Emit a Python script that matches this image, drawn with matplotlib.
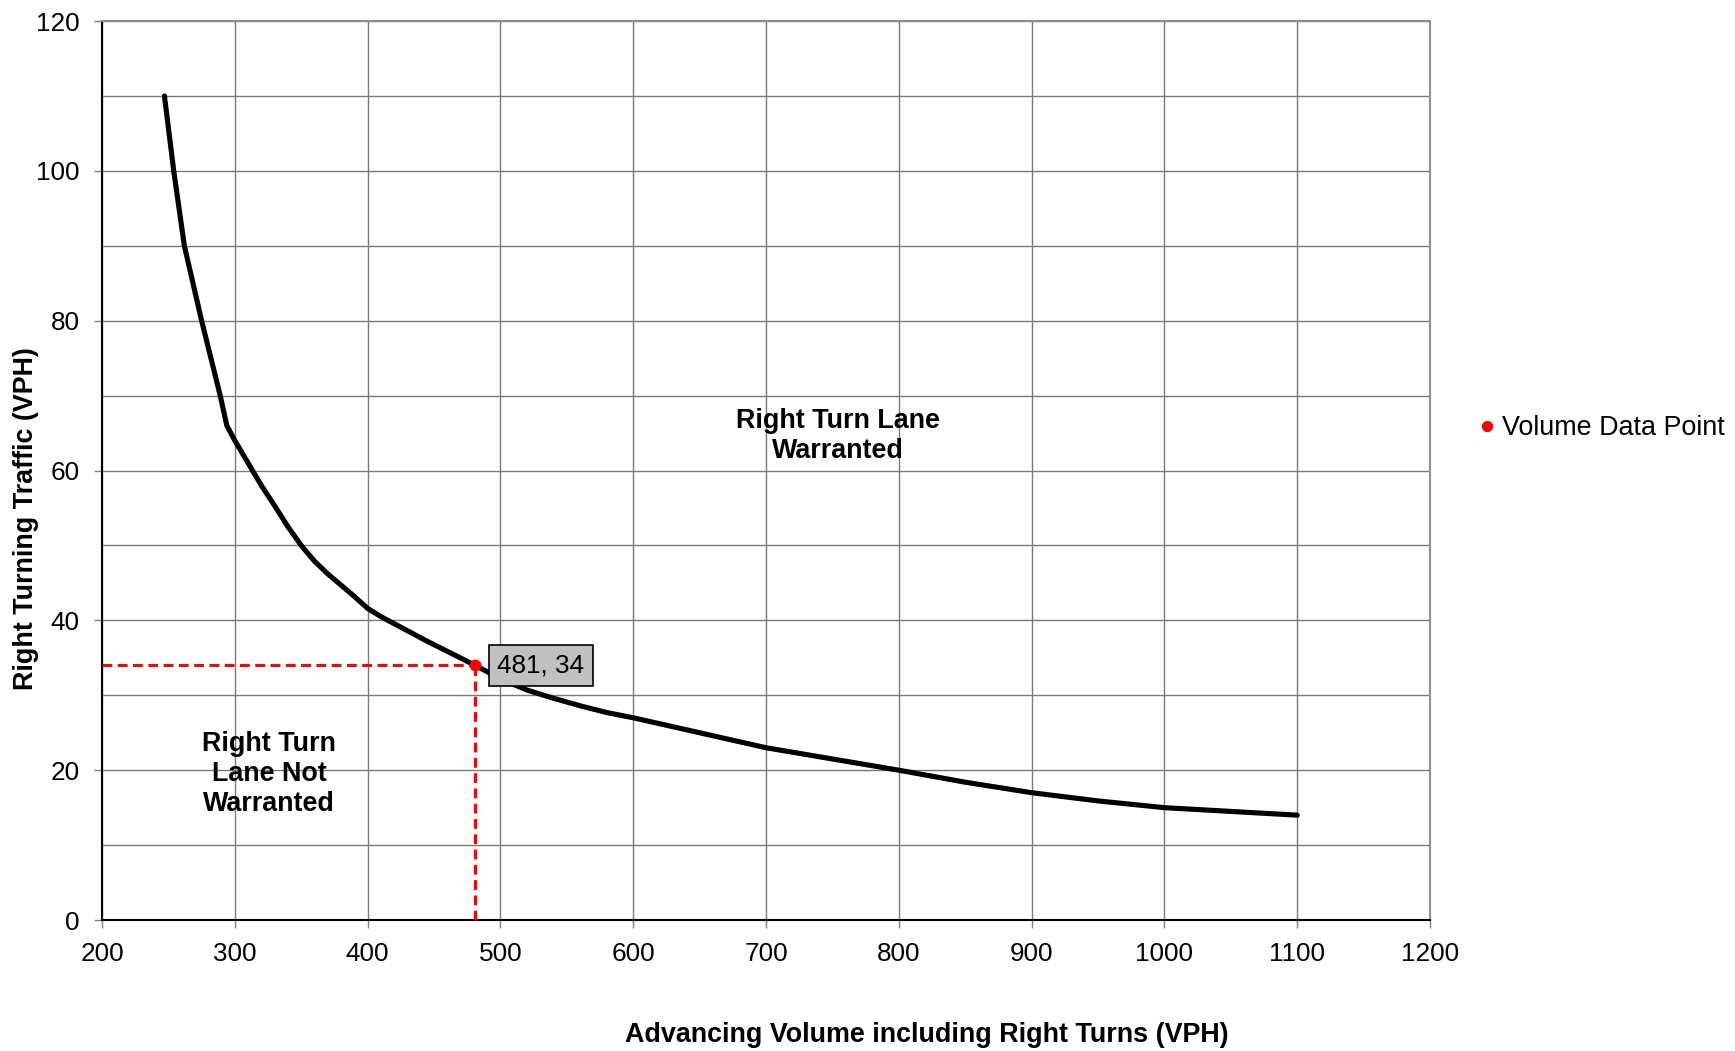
import matplotlib
matplotlib.use("Agg")
import matplotlib.pyplot as plt
from matplotlib.ticker import MultipleLocator

plt.rcParams['font.family'] = ['Liberation Sans', 'DejaVu Sans']

curve_x = [247, 254, 262, 275, 289, 294, 300, 310, 320, 330, 340, 350, 360, 370, 380, 390,
           400, 410, 445, 481, 500, 520, 540, 560, 580, 600, 650, 700, 750, 800, 850, 900,
           950, 1000, 1050, 1100]
curve_y = [110, 100, 90, 80, 70, 66, 64, 61, 58, 55.3, 52.5, 50, 47.9, 46.2, 44.7, 43.2,
           41.6, 40.5, 37.2, 34, 32.2, 30.7, 29.6, 28.6, 27.7, 27, 25, 23, 21.5, 20, 18.4, 17,
           15.9, 15, 14.5, 14]
point_x = 481
point_y = 34
point_label = "481, 34"
legend_label = "Volume Data Point"
x_ticks = [200, 300, 400, 500, 600, 700, 800, 900, 1000, 1100, 1200]
y_ticks = [0, 20, 40, 60, 80, 100, 120]

FS = 18.8
FSB = 19.4

fig = plt.figure(figsize=(17.35, 10.51), dpi=100)
ax = fig.add_axes([0.0588, 0.1246, 0.7654, 0.8554])
ax.set_xlim(200, 1200)
ax.set_ylim(0, 120)
ax.set_xticks(x_ticks)
ax.set_yticks(y_ticks)
ax.yaxis.set_minor_locator(MultipleLocator(10))
ax.grid(True, which='major', color='#7a7a7a', linewidth=1.0)
ax.grid(True, which='minor', axis='y', color='#7a7a7a', linewidth=1.0)
ax.tick_params(axis='y', which='minor', length=0)
ax.tick_params(axis='both', which='major', direction='out', length=6, width=1,
               color='#808080', labelsize=FS, pad=10)
ax.set_axisbelow(True)
for s in ['top', 'right']:
    ax.spines[s].set_color('#909090')
    ax.spines[s].set_linewidth(1.5)
for s in ['left', 'bottom']:
    ax.spines[s].set_color('black')
    ax.spines[s].set_linewidth(1.5)

ax.plot(curve_x, curve_y, color='black', linewidth=3.7, solid_capstyle='round',
        solid_joinstyle='round', zorder=3)

ax.plot([200, point_x], [point_y, point_y], color='#ff0000', linestyle=(0, (3.2, 1.8)),
        linewidth=2.2, zorder=4, clip_on=False)
ax.plot([point_x, point_x], [0, point_y], color='#ff0000', linestyle=(0, (3.2, 1.8)),
        linewidth=2.2, zorder=4, clip_on=False)
ax.plot([point_x], [point_y], 'o', color='#ff0000', markersize=7.5, zorder=5,
        label=legend_label)

ax.annotate(point_label, xy=(point_x, point_y), xytext=(16, 0), textcoords='offset points',
            fontsize=FS, va='center', ha='left', zorder=6,
            bbox=dict(boxstyle='square,pad=0.32', facecolor='#c0c0c0', edgecolor='black',
                      linewidth=1.2))

ax.text(754, 64.6, "Right Turn Lane\nWarranted", fontsize=FSB, fontweight='bold',
        ha='center', va='center', linespacing=1.22, zorder=6)
ax.text(326, 19.5, "Right Turn\nLane Not\nWarranted", fontsize=FSB, fontweight='bold',
        ha='center', va='center', linespacing=1.22, zorder=6)

ax.set_xlabel("Advancing Volume including Right Turns (VPH)", fontsize=FSB,
              fontweight='bold', va='top', ha='center')
ax.xaxis.set_label_coords(0.621, -0.1135)
ax.set_ylabel("Right Turning Traffic (VPH)", fontsize=FSB, fontweight='bold')
ax.yaxis.set_label_coords(-0.0474, 0.447)

leg = fig.legend(loc='center left', bbox_to_anchor=(0.8522, 0.5928), frameon=False,
                 fontsize=FSB, handletextpad=0.26, handlelength=0.6, borderpad=0,
                 borderaxespad=0, markerscale=0.95)

fig.savefig("out.png", dpi=100)
